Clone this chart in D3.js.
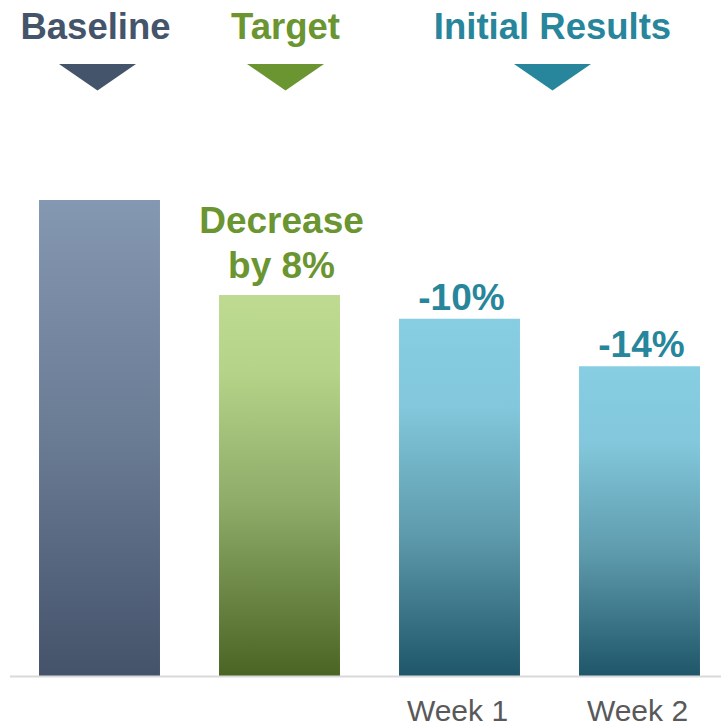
<!DOCTYPE html>
<html>
<head>
<meta charset="utf-8">
<script src="https://cdn.jsdelivr.net/npm/d3@7"></script>
<style>
  html, body { margin: 0; padding: 0; background: #fff; }
  svg { display: block; }
  text { font-family: "Liberation Sans", Arial, sans-serif; }
</style>
</head>
<body>
<svg id="chart" width="721" height="728"></svg>
<script>
// Bars: baseline, target and the first two weeks of results
const categories = ["Baseline", "Target", "Week 1", "Week 2"];
const values = [100, 92, 90, 86];
const valueLabels = [null, ["Decrease", "by 8%"], ["-10%"], ["-14%"]];
const axisLabels = ["", "", "Week 1", "Week 2"];

// Section headers spanning the bars beneath them
const headers = ["Baseline", "Target", "Initial Results"];
const headerBars = [["Baseline"], ["Target"], ["Week 1", "Week 2"]];

const headerColors = ["#44546a", "#6a9531", "#27869b"];
const gradients = [
  [["0", "#8598b1"], ["0.5", "#6a7b94"], ["1", "#44536a"]],
  [["0", "#bedb91"], ["0.2", "#b5d489"], ["0.55", "#8eab68"], ["1", "#4a6424"]],
  [["0", "#87cee3"], ["0.25", "#82c7db"], ["0.6", "#5e9bad"], ["1", "#1f5669"]],
  [["0", "#87cee3"], ["0.25", "#82c7db"], ["0.6", "#5e9bad"], ["1", "#1f5669"]]
];
const labelColors = [null, "#6a9531", "#27869b", "#27869b"];

const svg = d3.select("#chart");

const x = d3.scaleBand()
  .domain(categories)
  .range([9.5, 729.5])
  .paddingInner(0.328)
  .paddingOuter(0.164);

const y = d3.scaleLinear()
  .domain([60, 100])
  .range([675, 200]);

const defs = svg.append("defs");
gradients.forEach((stops, i) => {
  const g = defs.append("linearGradient")
    .attr("id", "grad" + i)
    .attr("x1", 0).attr("y1", 0).attr("x2", 0).attr("y2", 1);
  stops.forEach(([off, c]) => g.append("stop").attr("offset", off).attr("stop-color", c));
});

// Bars
svg.append("g").selectAll("rect")
  .data(categories)
  .join("rect")
  .attr("x", d => x(d))
  .attr("width", x.bandwidth())
  .attr("y", (d, i) => y(values[i]))
  .attr("height", (d, i) => y.range()[0] - y(values[i]) + 1)
  .attr("fill", (d, i) => `url(#grad${i})`);

// Baseline rule
svg.append("line")
  .attr("x1", 10).attr("x2", 721)
  .attr("y1", 676.5).attr("y2", 676.5)
  .attr("stroke", "#d9d9d9")
  .attr("stroke-width", 2);

// Category labels under the axis
svg.append("g").selectAll("text")
  .data(categories)
  .join("text")
  .attr("x", d => x(d) + x.bandwidth() / 2 - 2)
  .attr("y", 721)
  .attr("text-anchor", "middle")
  .attr("font-size", 30)
  .attr("fill", "#595959")
  .text((d, i) => axisLabels[i]);

// Value labels above bars
categories.forEach((c, i) => {
  const lines = valueLabels[i];
  if (!lines) return;
  const cx = x(c) + x.bandwidth() / 2;
  const top = y(values[i]);
  const gap = lines.length > 1 ? 17 : 9;
  lines.slice().reverse().forEach((t, k) => {
    svg.append("text")
      .attr("x", cx + 2)
      .attr("y", top - gap - k * 45.5)
      .attr("text-anchor", "middle")
      .attr("font-size", 37)
      .attr("font-weight", "bold")
      .attr("fill", labelColors[i])
      .text(t);
  });
});

// Headers with pointer triangles
headers.forEach((h, i) => {
  const bars = headerBars[i];
  const x0 = x(bars[0]);
  const x1 = x(bars[bars.length - 1]) + x.bandwidth();
  const cx = (x0 + x1) / 2 + (i === 0 ? -2 : i === 1 ? 6 : 3);
  svg.append("text")
    .attr("x", cx - (i === 0 ? 2 : 0))
    .attr("y", 38.5)
    .attr("text-anchor", "middle")
    .attr("font-size", 36.5)
    .attr("font-weight", "bold")
    .attr("fill", headerColors[i])
    .text(h);
  const tri = d3.path();
  tri.moveTo(cx - 38.5, 64);
  tri.lineTo(cx + 38.5, 64);
  tri.lineTo(cx, 90.5);
  tri.closePath();
  svg.append("path")
    .attr("d", tri.toString())
    .attr("fill", headerColors[i]);
});
</script>
</body>
</html>
